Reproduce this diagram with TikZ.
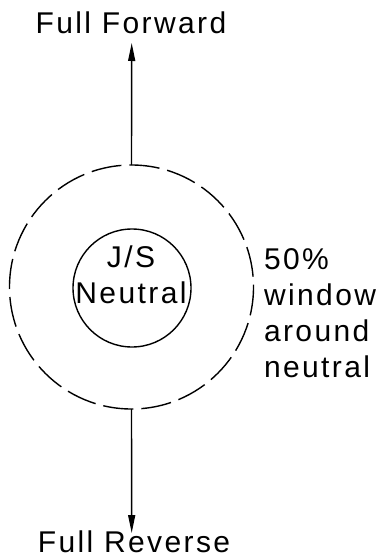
\documentclass[tikz,border=0pt]{standalone}
\usepackage{fontspec}
\setmainfont[LetterSpace=8]{Liberation Sans}
\usetikzlibrary{arrows.meta}
\begin{document}
\begin{tikzpicture}[x=1pt,y=-1pt,
  lbl/.style={inner sep=0pt, outer sep=0pt, font=\fontsize{30}{35.8}\selectfont},
  ring/.style={circle, draw, line width=1.4pt, inner sep=0pt, outer sep=0pt},
  arr/.style={line width=1.4pt, -{Triangle[length=18pt, width=7pt]}}]
\useasboundingbox (0,0) rectangle (381,559);
\node[ring, minimum size=244pt, dash pattern=on 30.3pt off 8pt, dash phase=28pt] (outer) at (131.5,287) {};
\node[ring, minimum size=118pt] (inner) at (132,288) {};
\node[lbl, anchor=base] (ff) at (131,33.5) {Full Forward};
\node[lbl, anchor=base] (fr) at (134,552.5) {Full Reverse};
\node[lbl, align=center, anchor=base] (js) at (131,303) {J/S\\Neutral};
\node[lbl, align=left, anchor=base west] (win) at (264,377) {50\%\\window\\around\\neutral};
\coordinate (fftip) at (131.7,43);
\coordinate (frtip) at (131.7,533);
\draw[arr] (outer.north) -- (fftip);
\draw[arr] (outer.south) -- (frtip);
\end{tikzpicture}
\end{document}
